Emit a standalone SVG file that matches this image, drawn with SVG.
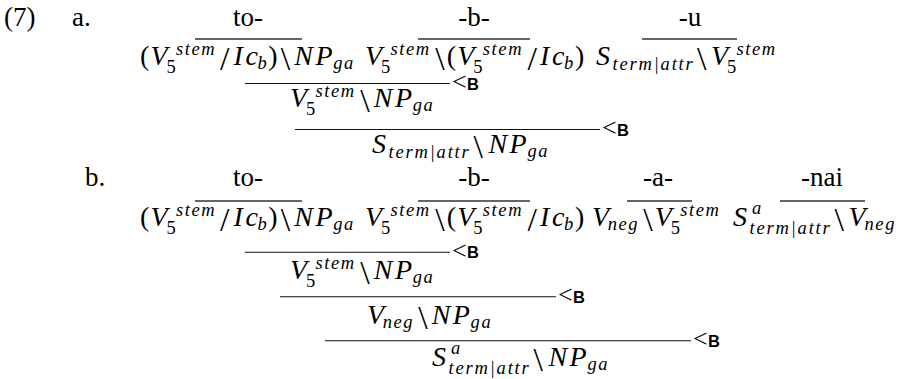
<svg xmlns="http://www.w3.org/2000/svg" width="911" height="379" viewBox="0 0 911 379">
<style>
text{font-family:"Liberation Serif","Times New Roman",serif;fill:#000}
.w{font-size:27px}
.m{font-size:28px;font-style:italic}
.u{font-style:normal}
.s{font-size:18.5px;letter-spacing:1.6px}
.t{letter-spacing:1.8px}
.sl{font-size:34px;font-style:normal}
.p{font-size:28px;font-style:normal}
.lt{font-size:26px}
.rb{font-family:"Liberation Sans",Arial,sans-serif;font-weight:bold;font-size:16.5px}
.ov{stroke:#333;stroke-width:1.3}
.cb{stroke:#111;stroke-width:1.1}
</style>
<rect width="911" height="379" fill="#fff"/>
<g id="labels">
<text class="w" x="4" y="26">(7)</text>
<text class="w" x="72" y="26">a.</text>
<text class="w" x="85" y="186">b.</text>
</g>
<g id="a-to">
<text class="w" x="248" y="26" text-anchor="middle">to-</text>
<line class="ov" x1="195" y1="39" x2="302" y2="39"/>
<text class="m"><tspan class="p" x="140" y="65">(</tspan><tspan x="150.5" y="65">V</tspan><tspan class="s" x="176" y="55">stem</tspan><tspan class="s u" x="166.5" y="72.5">5</tspan><tspan class="sl" x="220" y="70">/</tspan><tspan x="233.5" y="65">I</tspan><tspan x="245.5" y="65">c</tspan><tspan class="s" x="257.5" y="69">b</tspan><tspan class="p" x="268.2" y="65">)</tspan><tspan class="sl" x="280.7" y="70">\</tspan><tspan x="294.2" y="65">N</tspan><tspan x="315.4" y="65">P</tspan><tspan class="s" x="333.2" y="69">ga</tspan></text>
</g>
<g id="a-b">
<text class="w" x="474" y="26" text-anchor="middle">-b-</text>
<line class="ov" x1="418" y1="39" x2="530" y2="39"/>
<text class="m"><tspan x="365" y="65">V</tspan><tspan class="s" x="390.5" y="55">stem</tspan><tspan class="s u" x="381" y="72.5">5</tspan><tspan class="sl" x="435.3" y="70">\</tspan><tspan class="p" x="446.8" y="65">(</tspan><tspan x="457.3" y="65">V</tspan><tspan class="s" x="482.8" y="55">stem</tspan><tspan class="s u" x="473.3" y="72.5">5</tspan><tspan class="sl" x="527.6" y="70">/</tspan><tspan x="540" y="65">I</tspan><tspan x="552" y="65">c</tspan><tspan class="s" x="564" y="69">b</tspan><tspan class="p" x="575" y="65">)</tspan></text>
</g>
<g id="a-u">
<text class="w" x="690" y="26" text-anchor="middle">-u</text>
<line class="ov" x1="642" y1="39" x2="737" y2="39"/>
<text class="m"><tspan x="596" y="65">S</tspan><tspan class="s t" x="612.6" y="70">term|attr</tspan><tspan class="sl" x="697" y="70">\</tspan><tspan x="711" y="65">V</tspan><tspan class="s" x="736.5" y="55">stem</tspan><tspan class="s u" x="727" y="72.5">5</tspan></text>
</g>
<g id="a-r1">
<text class="m"><tspan x="290" y="107">V</tspan><tspan class="s" x="315.5" y="97">stem</tspan><tspan class="s u" x="306" y="114.5">5</tspan><tspan class="sl" x="360.3" y="112">\</tspan><tspan x="373.8" y="107">N</tspan><tspan x="394.9" y="107">P</tspan><tspan class="s" x="412.7" y="111">ga</tspan></text>
</g>
<g id="a-r2">
<text class="m"><tspan x="372" y="153">S</tspan><tspan class="s t" x="388.6" y="158">term|attr</tspan><tspan class="sl" x="473.5" y="158">\</tspan><tspan x="488.5" y="153">N</tspan><tspan x="509.6" y="153">P</tspan><tspan class="s" x="527.5" y="157">ga</tspan></text>
</g>
<g id="b-to">
<text class="w" x="248" y="186" text-anchor="middle">to-</text>
<line class="ov" x1="195" y1="201" x2="302" y2="201"/>
<text class="m"><tspan class="p" x="140" y="226">(</tspan><tspan x="150.5" y="226">V</tspan><tspan class="s" x="176" y="216">stem</tspan><tspan class="s u" x="166.5" y="233.5">5</tspan><tspan class="sl" x="220" y="231">/</tspan><tspan x="233.5" y="226">I</tspan><tspan x="245.5" y="226">c</tspan><tspan class="s" x="257.5" y="230">b</tspan><tspan class="p" x="268.2" y="226">)</tspan><tspan class="sl" x="280.7" y="231">\</tspan><tspan x="294.2" y="226">N</tspan><tspan x="315.4" y="226">P</tspan><tspan class="s" x="333.2" y="230">ga</tspan></text>
</g>
<g id="b-b">
<text class="w" x="474" y="186" text-anchor="middle">-b-</text>
<line class="ov" x1="418" y1="201" x2="530" y2="201"/>
<text class="m"><tspan x="365" y="226">V</tspan><tspan class="s" x="390.5" y="216">stem</tspan><tspan class="s u" x="381" y="233.5">5</tspan><tspan class="sl" x="435.3" y="231">\</tspan><tspan class="p" x="446.8" y="226">(</tspan><tspan x="457.3" y="226">V</tspan><tspan class="s" x="482.8" y="216">stem</tspan><tspan class="s u" x="473.3" y="233.5">5</tspan><tspan class="sl" x="527.6" y="231">/</tspan><tspan x="540" y="226">I</tspan><tspan x="552" y="226">c</tspan><tspan class="s" x="564" y="230">b</tspan><tspan class="p" x="575" y="226">)</tspan></text>
</g>
<g id="b-a">
<text class="w" x="658" y="186" text-anchor="middle">-a-</text>
<line class="ov" x1="627" y1="201" x2="692" y2="201"/>
<text class="m"><tspan x="592" y="226">V</tspan><tspan class="s" x="607.7" y="230">neg</tspan><tspan class="sl" x="643.2" y="231">\</tspan><tspan x="654.7" y="226">V</tspan><tspan class="s" x="680.2" y="216">stem</tspan><tspan class="s u" x="670.8" y="233.5">5</tspan></text>
</g>
<g id="b-nai">
<text class="w" x="822" y="186" text-anchor="middle">-nai</text>
<line class="ov" x1="780" y1="201" x2="865" y2="201"/>
<text class="m"><tspan x="733" y="226">S</tspan><tspan class="s" x="752" y="214">a</tspan><tspan class="s t" x="749.6" y="234">term|attr</tspan><tspan class="sl" x="834.5" y="231">\</tspan><tspan x="848.5" y="226">V</tspan><tspan class="s" x="864.5" y="230">neg</tspan></text>
</g>
<g id="b-r1">
<text class="m"><tspan x="290" y="279">V</tspan><tspan class="s" x="315.5" y="269">stem</tspan><tspan class="s u" x="306" y="286.5">5</tspan><tspan class="sl" x="360.3" y="284">\</tspan><tspan x="373.8" y="279">N</tspan><tspan x="394.9" y="279">P</tspan><tspan class="s" x="412.7" y="283">ga</tspan></text>
</g>
<g id="b-r2">
<text class="m"><tspan x="367" y="324">V</tspan><tspan class="s" x="382.7" y="328">neg</tspan><tspan class="sl" x="418.2" y="329">\</tspan><tspan x="431.7" y="324">N</tspan><tspan x="452.8" y="324">P</tspan><tspan class="s" x="470.6" y="328">ga</tspan></text>
</g>
<g id="b-r3">
<text class="m"><tspan x="432" y="366">S</tspan><tspan class="s" x="451" y="354">a</tspan><tspan class="s t" x="448.6" y="374">term|attr</tspan><tspan class="sl" x="533.5" y="371">\</tspan><tspan x="548.5" y="366">N</tspan><tspan x="569.6" y="366">P</tspan><tspan class="s" x="587.5" y="370">ga</tspan></text>
</g>
<g id="connectors">
<line class="cb" x1="245" y1="83.5" x2="450" y2="83.5"/>
<text class="lt" x="452" y="90">&lt;</text><text class="rb" x="467" y="89.5">B</text>
<line class="cb" x1="295" y1="129.5" x2="600" y2="129.5"/>
<text class="lt" x="602" y="136">&lt;</text><text class="rb" x="617" y="135.5">B</text>
<line class="cb" x1="245" y1="252.3" x2="450" y2="252.3"/>
<text class="lt" x="452" y="258.8">&lt;</text><text class="rb" x="467" y="258.3">B</text>
<line class="cb" x1="280" y1="296.7" x2="556" y2="296.7"/>
<text class="lt" x="558" y="303.2">&lt;</text><text class="rb" x="573" y="302.7">B</text>
<line class="cb" x1="325" y1="340.7" x2="691" y2="340.7"/>
<text class="lt" x="693" y="347.2">&lt;</text><text class="rb" x="708" y="346.7">B</text>
</g>
</svg>
